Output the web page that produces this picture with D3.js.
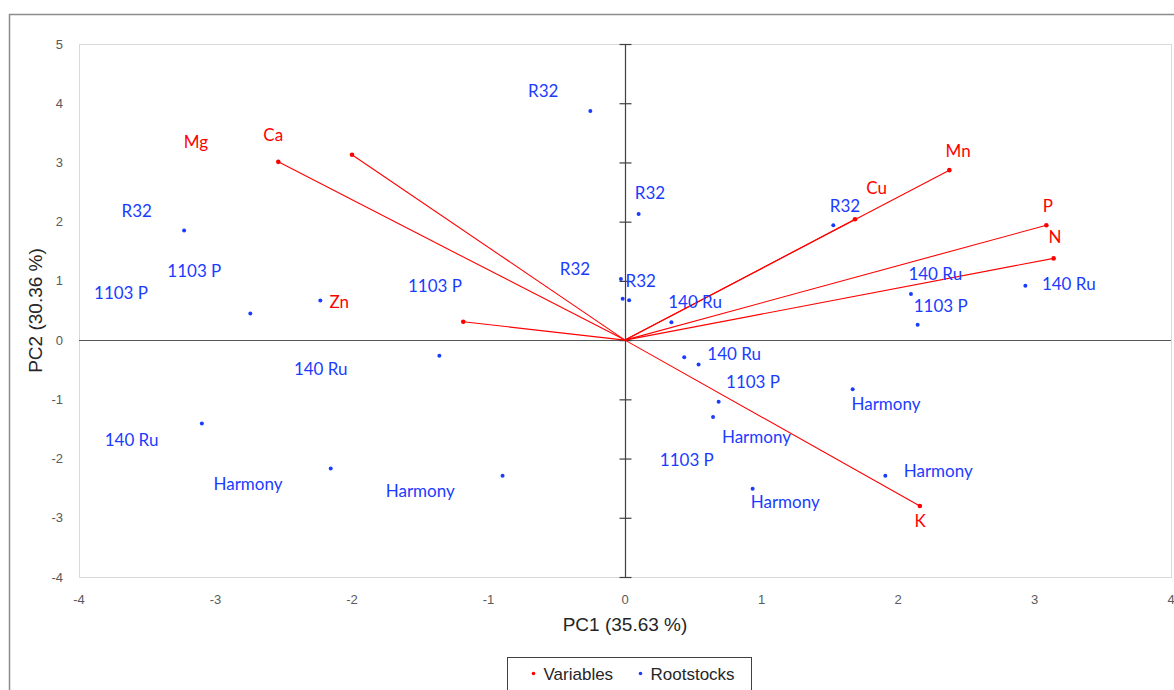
<!DOCTYPE html>
<html>
<head>
<meta charset="utf-8">
<script src="https://cdn.jsdelivr.net/npm/d3@7"></script>
<style>
  html, body { margin: 0; padding: 0; background: #fff; overflow: hidden; }
  svg { display: block; }
</style>
</head>
<body>
<svg id="chart"></svg>
<script>
// variable loadings (red vectors)
const varNames = ['Mg', 'Ca', 'Zn', 'Mn', 'Cu', 'P', 'N', 'K'];
const varPC1 = [-2.00, -2.54, -1.185, 2.376, 1.685, 3.087, 3.14, 2.16];
const varPC2 = [3.13, 3.01, 0.31, 2.87, 2.04, 1.94, 1.38, -2.80];
// where each variable label sits (in PC units)
const varLabPC1 = [-3.143, -2.577, -2.093, 2.44, 1.844, 3.097, 3.15, 2.163];
const varLabPC2 = [3.34, 3.463, 0.647, 3.193, 2.573, 2.269, 1.74, -3.052];

// rootstock scores (blue points)
const rootNames = ['R32', 'R32', 'R32', 'R32', 'R32', 'R32',
  '1103 P', '1103 P', '1103 P', '1103 P', '1103 P', '1103 P',
  '140 Ru', '140 Ru', '140 Ru', '140 Ru', '140 Ru', '140 Ru',
  'Harmony', 'Harmony', 'Harmony', 'Harmony', 'Harmony', 'Harmony'];
const rootPC1 = [-3.23, -0.254, 0.10, -0.03, -0.017, 1.526,
  -2.745, -2.232, -1.36, 0.686, 0.645, 2.144,
  -3.10, 0.03, 0.34, 0.434, 2.095, 2.933,
  -2.156, -0.897, 0.539, 1.668, 1.907, 0.935];
const rootPC2 = [1.85, 3.87, 2.13, 1.03, 0.70, 1.94,
  0.45, 0.67, -0.265, -1.04, -1.30, 0.26,
  -1.41, 0.675, 0.30, -0.29, 0.78, 0.92,
  -2.17, -2.29, -0.41, -0.83, -2.29, -2.51];
const rootLabPC1 = [-3.577, -0.599, 0.183, -0.366, 0.115, 1.612,
  -3.155, -3.692, -1.392, 0.938, 0.453, 2.313,
  -3.615, 0.513, 0.8, -2.229, 2.273, 3.251,
  -2.762, -1.5, 0.963, 1.912, 2.295, 1.174];
const rootLabPC2 = [2.184, 4.206, 2.478, 1.199, 1.002, 2.269,
  1.166, 0.789, 0.917, -0.704, -2.027, 0.579,
  -1.689, 0.637, -0.236, -0.495, 1.115, 0.946,
  -2.432, -2.546, -1.633, -1.081, -2.208, -2.736];

const xTicks = [-4, -3, -2, -1, 0, 1, 2, 3, 4];
const yTicks = [5, 4, 3, 2, 1, 0, -1, -2, -3, -4];
const legendItems = ['Variables', 'Rootstocks'];

const W = 1174, H = 690;
const red = '#ff0000', blue = '#1a3cff';
const labelFont = 'Lato, "Open Sans", sans-serif';
const axisFont = '"Liberation Sans", Arial, sans-serif';

const svg = d3.select('#chart').attr('width', W).attr('height', H);

// chart outer frame
svg.append('rect')
  .attr('x', 9.5).attr('y', 14.5)
  .attr('width', 1180).attr('height', 700)
  .attr('fill', 'none').attr('stroke', '#8c8c8c').attr('stroke-width', 1.5);

const plot = {left: 79, top: 44, right: 1171, bottom: 577};

const x = d3.scaleLinear().domain([-4, 4]).range([plot.left, plot.right]);
const y = d3.scaleLinear().domain([-4, 5]).range([plot.bottom, plot.top]);

// plot area border
svg.append('rect')
  .attr('x', plot.left + 0.5).attr('y', plot.top + 0.5)
  .attr('width', plot.right - plot.left).attr('height', plot.bottom - plot.top)
  .attr('fill', 'none').attr('stroke', '#d9d9d9');

// horizontal axis at PC2 = 0 (no ticks)
svg.append('line')
  .attr('x1', plot.left).attr('x2', plot.right)
  .attr('y1', Math.round(y(0)) + 0.5).attr('y2', Math.round(y(0)) + 0.5)
  .attr('stroke', '#595959').attr('stroke-width', 1.2);

// vertical axis at PC1 = 0 with cross ticks
const x0 = Math.round(x(0)) + 0.5;
const yAxis = d3.axisLeft(y).tickValues(yTicks).tickSize(-12).tickFormat('');
const yAxisG = svg.append('g')
  .attr('transform', `translate(${x0 - 6},0)`)
  .call(yAxis);
yAxisG.select('.domain').remove();
yAxisG.selectAll('line').attr('stroke', '#404040').attr('stroke-width', 1.2);
svg.append('line')
  .attr('x1', x0).attr('x2', x0)
  .attr('y1', plot.top).attr('y2', plot.bottom)
  .attr('stroke', '#404040').attr('stroke-width', 1.2);

// tick labels (low position)
svg.append('g').selectAll('text')
  .data(yTicks).join('text')
  .attr('x', 63).attr('y', d => y(d)).attr('dy', '0.35em')
  .attr('text-anchor', 'end')
  .attr('font-family', axisFont).attr('font-size', 13).attr('fill', '#595959')
  .text(d => d);

svg.append('g').selectAll('text')
  .data(xTicks).join('text')
  .attr('x', d => x(d)).attr('y', 604)
  .attr('text-anchor', 'middle')
  .attr('font-family', axisFont).attr('font-size', 13).attr('fill', '#595959')
  .text(d => d);

// axis titles
svg.append('text')
  .attr('x', x(0)).attr('y', 631)
  .attr('text-anchor', 'middle')
  .attr('font-family', axisFont).attr('font-size', 19).attr('fill', '#262626')
  .text('PC1 (35.63 %)');

svg.append('text')
  .attr('transform', `translate(42,${(plot.top + plot.bottom) / 2}) rotate(-90)`)
  .attr('text-anchor', 'middle')
  .attr('font-family', axisFont).attr('font-size', 19).attr('fill', '#262626')
  .text('PC2 (30.36 %)');

// variable vectors
const vars = varNames.map((n, i) => ({
  name: n, pc1: varPC1[i], pc2: varPC2[i], lx: varLabPC1[i], ly: varLabPC2[i]
}));

svg.append('g').selectAll('line')
  .data(vars).join('line')
  .attr('x1', x(0)).attr('y1', y(0))
  .attr('x2', d => x(d.pc1)).attr('y2', d => y(d.pc2))
  .attr('stroke', red).attr('stroke-width', 1.1);

svg.append('g').selectAll('circle')
  .data(vars).join('circle')
  .attr('cx', d => x(d.pc1)).attr('cy', d => y(d.pc2))
  .attr('r', 2.3).attr('fill', red);

svg.append('g').selectAll('text')
  .data(vars).join('text')
  .attr('x', d => x(d.lx)).attr('y', d => y(d.ly)).attr('dy', '0.35em')
  .attr('text-anchor', 'middle')
  .attr('font-family', labelFont).attr('font-size', 17).attr('fill', red)
  .text(d => d.name);

// rootstock scores
const roots = rootNames.map((n, i) => ({
  name: n, pc1: rootPC1[i], pc2: rootPC2[i], lx: rootLabPC1[i], ly: rootLabPC2[i]
}));

svg.append('g').selectAll('circle')
  .data(roots).join('circle')
  .attr('cx', d => x(d.pc1)).attr('cy', d => y(d.pc2))
  .attr('r', 2).attr('fill', blue);

svg.append('g').selectAll('text')
  .data(roots).join('text')
  .attr('x', d => x(d.lx)).attr('y', d => y(d.ly)).attr('dy', '0.35em')
  .attr('text-anchor', 'middle')
  .attr('font-family', labelFont).attr('font-size', 17).attr('fill', blue)
  .text(d => d.name);

// legend
const legend = svg.append('g').attr('transform', 'translate(507.5,657.5)');
legend.append('rect')
  .attr('width', 244).attr('height', 36)
  .attr('fill', '#fff').attr('stroke', '#404040');
const legendColors = [red, blue];
const legendX = [26, 133];
legendItems.forEach((t, i) => {
  legend.append('circle')
    .attr('cx', legendX[i]).attr('cy', 16).attr('r', 1.8).attr('fill', legendColors[i]);
  legend.append('text')
    .attr('x', legendX[i] + 10).attr('y', 22)
    .attr('font-family', axisFont).attr('font-size', 17).attr('fill', '#262626')
    .text(t);
});
</script>
</body>
</html>
